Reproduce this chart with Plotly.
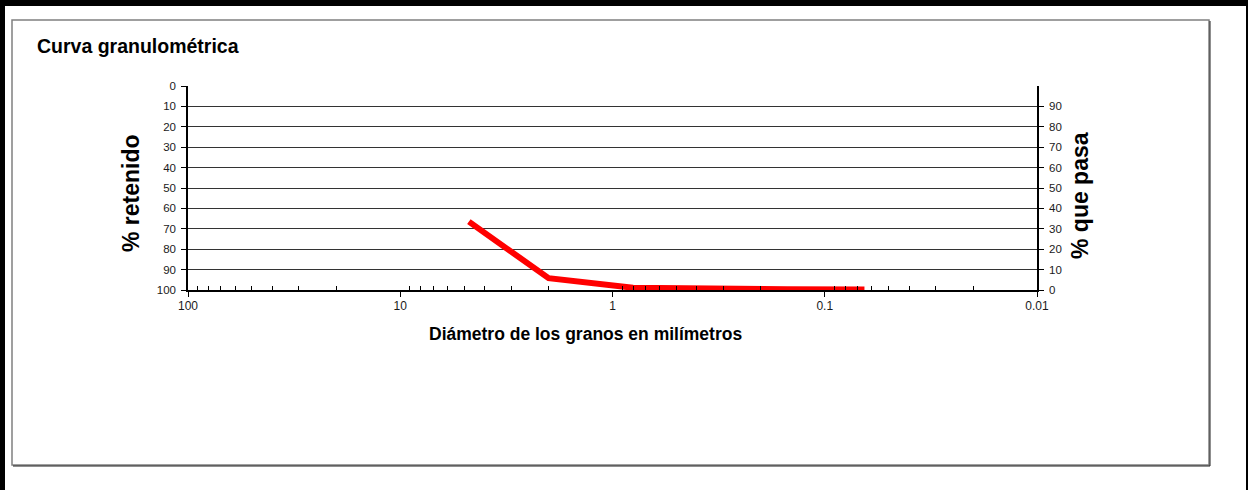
import plotly.graph_objects as go

# Data (diameter in mm, % retained)
diametros = [4.75, 2.0, 0.8, 0.42, 0.15, 0.065]
retenido = [66.5, 94.2, 98.9, 99.3, 99.6, 99.7]

x_tick_vals = [100, 10, 1, 0.1, 0.01]
x_tick_text = ["100", "10", "1", "0.1", "0.01"]
left_ticks = list(range(0, 101, 10))
right_ticks = list(range(0, 100, 10))

W, H = 1248, 490
L, R, T, B = 188, 1037, 86, 290  # plot area in pixels


def px(x):
    return (x - L) / (R - L)


def py(y):
    return (B - y) / (B - T)


minor_vals = [m * 10 ** e for e in range(-2, 2) for m in range(2, 10)]

FONT = "Arial, Liberation Sans, sans-serif"

fig = go.Figure()
fig.add_trace(go.Scatter(
    x=diametros, y=retenido, mode="lines",
    line=dict(color="#ff0000", width=6),
    showlegend=False, hoverinfo="skip",
))
# invisible trace to activate the right axis
fig.add_trace(go.Scatter(x=[1], y=[None], yaxis="y2", showlegend=False,
                         hoverinfo="skip", mode="lines"))

fig.update_layout(
    width=W, height=H,
    margin=dict(l=L, r=W - R, t=T, b=H - B, pad=0),
    paper_bgcolor="white", plot_bgcolor="white",
    font=dict(family=FONT, size=11, color="#000000"),
    xaxis=dict(
        type="log", range=[2, -2],
        tickvals=x_tick_vals, ticktext=x_tick_text,
        ticks="outside", ticklen=5, tickcolor="#000000", tickwidth=1,
        showline=True, linecolor="#000000", linewidth=1.5,
        showgrid=False, zeroline=False, ticklabelstandoff=-1,
        tickfont=dict(size=12, color="#1a1a1a"),
        minor=dict(tickvals=minor_vals, ticks="inside", ticklen=4,
                   tickcolor="#000000", tickwidth=1, showgrid=False),
    ),
    yaxis=dict(
        range=[100, 0], tickvals=left_ticks,
        ticks="outside", ticklen=5, tickcolor="#000000",
        showline=True, linecolor="#000000", linewidth=1.5,
        showgrid=True, gridcolor="#333333", gridwidth=1,
        zeroline=False, ticklabelstandoff=3,
        tickfont=dict(size=11.5, color="#1a1a1a"),
    ),
    yaxis2=dict(
        range=[0, 100], tickvals=right_ticks, overlaying="y", side="right",
        anchor="x",
        ticks="outside", ticklen=5, tickcolor="#000000",
        showline=True, linecolor="#000000", linewidth=1.5,
        showgrid=False, zeroline=False, ticklabelstandoff=3,
        tickfont=dict(size=11.5, color="#1a1a1a"),
    ),
    annotations=[
        dict(text="Curva granulométrica", xref="paper", yref="paper",
             x=px(35), y=py(46), xanchor="left", yanchor="middle",
             showarrow=False, font=dict(family=FONT, size=19.5, color="#000000", weight="bold")),
        dict(text="% retenido", xref="paper", yref="paper",
             x=px(131), y=py(193), xanchor="center", yanchor="middle", textangle=-90,
             showarrow=False, font=dict(family=FONT, size=23, color="#000000", weight="bold")),
        dict(text="% que pasa", xref="paper", yref="paper",
             x=px(1080), y=py(196), xanchor="center", yanchor="middle", textangle=-90,
             showarrow=False, font=dict(family=FONT, size=23, color="#000000", weight="bold")),
        dict(text="Diámetro de los granos en milímetros", xref="paper", yref="paper",
             x=px(585), y=py(334), xanchor="center", yanchor="middle",
             showarrow=False, font=dict(family=FONT, size=17.5, color="#000000", weight="bold")),
    ],
    shapes=[
        # inner chart frame
        dict(type="rect", xref="paper", yref="paper",
             x0=px(12), x1=px(1209), y0=py(465), y1=py(20),
             line=dict(color="#808080", width=1.5), fillcolor="rgba(0,0,0,0)", layer="below"),
        dict(type="line", xref="paper", yref="paper",
             x0=px(13), x1=px(1210), y0=py(466), y1=py(466),
             line=dict(color="#202020", width=1)),
        dict(type="line", xref="paper", yref="paper",
             x0=px(1210), x1=px(1210), y0=py(21), y1=py(466),
             line=dict(color="#202020", width=1)),
        # outer black borders
        dict(type="rect", xref="paper", yref="paper",
             x0=px(0), x1=px(1248), y0=py(6), y1=py(0),
             line=dict(width=0), fillcolor="#000000"),
        dict(type="rect", xref="paper", yref="paper",
             x0=px(0), x1=px(5), y0=py(490), y1=py(0),
             line=dict(width=0), fillcolor="#000000"),
        dict(type="rect", xref="paper", yref="paper",
             x0=px(1246), x1=px(1248), y0=py(490), y1=py(0),
             line=dict(width=0), fillcolor="#000000"),
    ],
)

fig.write_html(
    "out.html",
    config={"displayModeBar": False},
    post_script="document.body.style.margin='0';document.body.style.overflow='hidden';",
)
